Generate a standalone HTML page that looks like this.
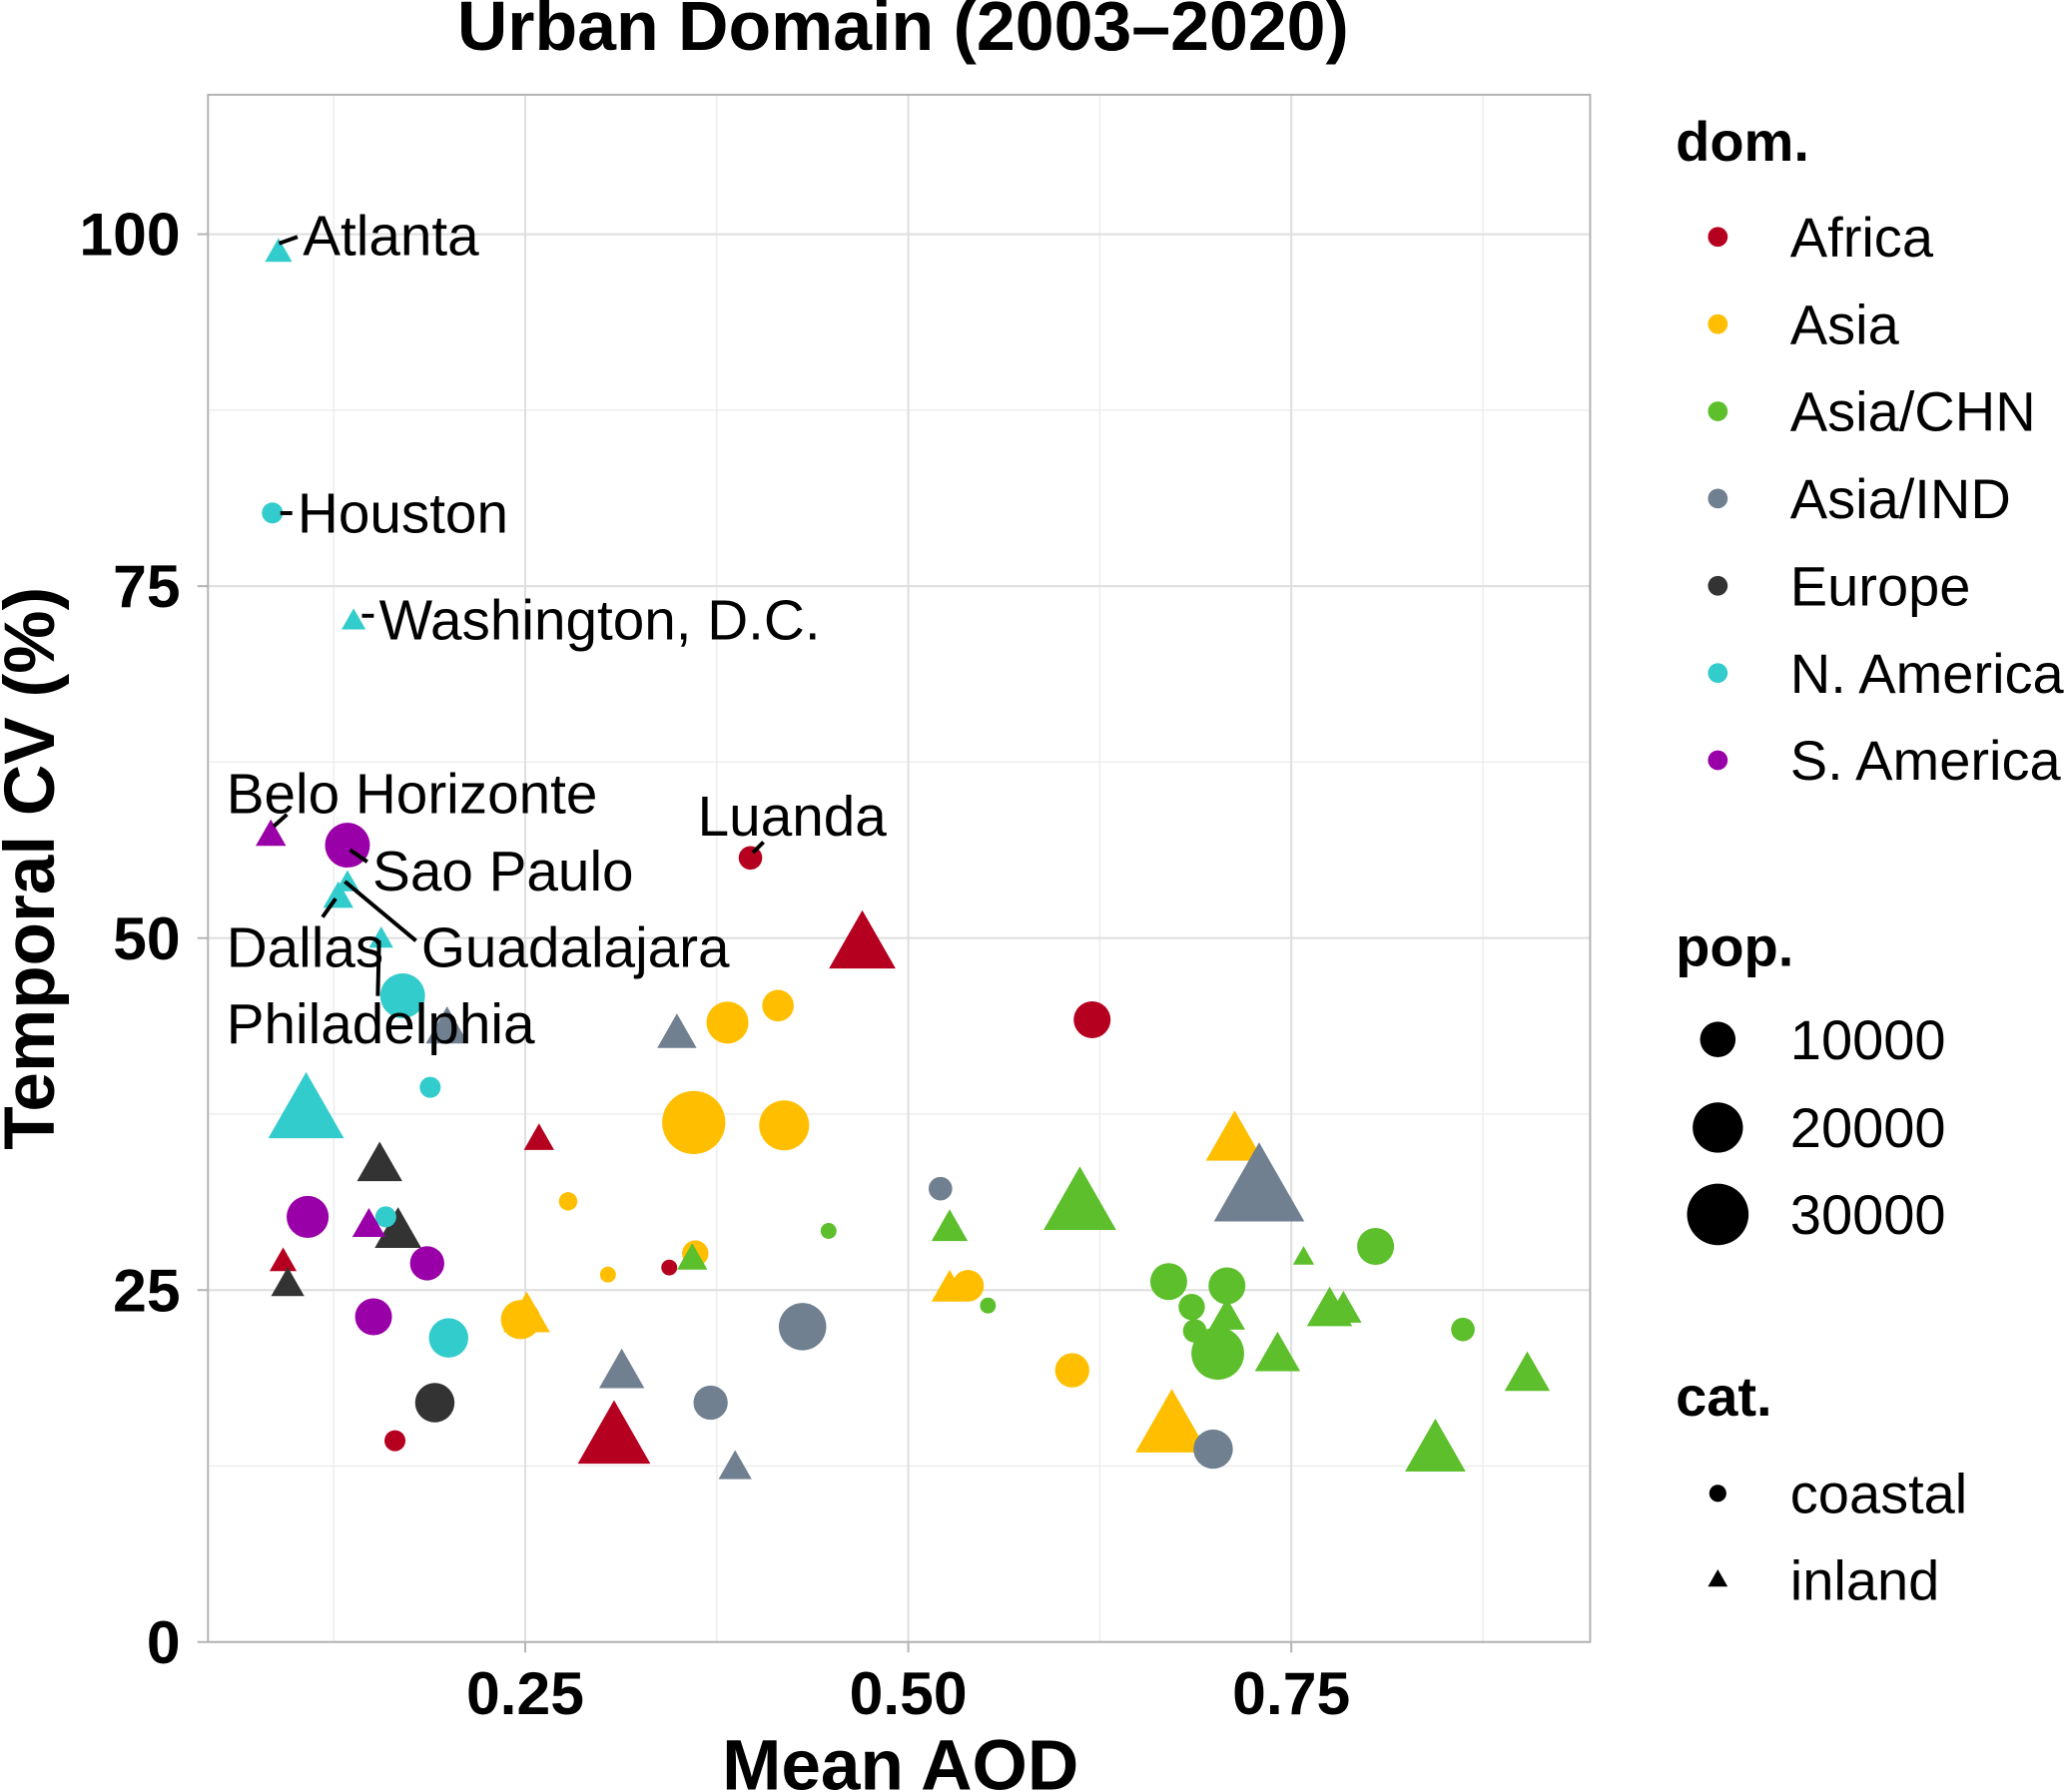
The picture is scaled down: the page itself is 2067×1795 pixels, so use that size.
<!DOCTYPE html>
<html><head><meta charset="utf-8">
<style>
html,body{margin:0;padding:0;background:#fff;}
svg{display:block;font-family:"Liberation Sans",Arial,sans-serif;}
</style></head>
<body>
<svg id="chart" width="2067" height="1795" viewBox="0 0 1568 1362" preserveAspectRatio="none" xmlns="http://www.w3.org/2000/svg">
<g id="grid"></g>
<g id="marks"></g>
<g id="ann"></g>
<rect x="158" y="72" width="1050" height="1176" fill="none" stroke="#b3b3b3" stroke-width="1.5"/>
<text x="686" y="38" font-size="53" font-weight="bold" text-anchor="middle">Urban Domain (2003–2020)</text>
<text x="684" y="1360" font-size="54" font-weight="bold" text-anchor="middle">Mean AOD</text>
<text transform="translate(41,660) rotate(-90)" font-size="54" font-weight="bold" text-anchor="middle">Temporal CV (%)</text>
<g id="ticks"></g>
<g id="legend"></g>
</svg>
<script>
const categories = ["Africa","Asia","Asia/CHN","Asia/IND","Europe","N. America","S. America"];
const colors = ["#b5001f","#ffbf00","#5cbf2b","#708090","#333333","#33cccc","#9900a8"];
const xTicks = [0.25,0.5,0.75];
const xTickLabels = ["0.25","0.50","0.75"];
const yTicks = [0,25,50,75,100];
const yTickLabels = ["0","25","50","75","100"];
// data
const region = [0,0,0,0,0,0,0,0, 1,1,1,1,1,1,1,1,1,1,1,1,1,1, 2,2,2,2,2,2,2,2,2,2,2,2,2,2,2,2,2,2,2, 3,3,3,3,3,3,3,3,3, 4,4,4,4, 5,5,5,5,5,5,5,5,5,5,5, 6,6,6,6,6,6];
const aod = [0.397,0.470,0.620,0.259,0.092,0.344,0.308,0.165,
 0.382,0.415,0.360,0.419,0.713,0.278,0.361,0.304,0.251,0.247,0.539,0.527,0.607,0.672,
 0.612,0.527,0.448,0.359,0.670,0.685,0.708,0.758,0.805,0.552,0.687,0.708,0.702,0.741,0.775,0.784,0.862,0.904,0.844,
 0.199,0.349,0.521,0.729,0.431,0.313,0.371,0.387,0.699,
 0.155,0.167,0.095,0.191,
 0.089,0.085,0.138,0.128,0.134,0.156,0.170,0.188,0.107,0.159,0.200,
 0.084,0.134,0.108,0.148,0.186,0.151];
const cv = [55.7,49.7,44.2,35.8,27.1,26.6,14.7,14.3,
 44.0,45.2,36.9,36.7,35.8,31.3,27.6,26.1,23.3,22.9,25.3,25.2,19.3,15.5,
 31.3,29.5,29.2,27.3,25.6,23.8,25.3,27.4,28.1,23.9,22.1,23.2,20.5,20.5,23.7,23.7,22.2,19.1,13.8,
 43.7,43.3,32.2,32.4,22.4,19.3,17.0,12.5,13.7,
 34.0,29.3,25.5,17.0,
 98.8,80.2,72.6,53.0,54.0,50.0,45.9,39.4,37.9,30.2,21.6,
 57.4,56.6,30.2,29.7,26.9,23.1];
const pop = [4400,26600,10800,5500,4400,2000,31600,3500,
 14000,7900,31600,19800,19800,2700,5500,2000,13000,12300,7900,7900,9300,31600,
 31600,7900,2000,5500,10800,5500,10800,2700,10800,2000,4400,7900,22000,12300,12300,7900,4400,12300,22000,
 10800,9300,4400,49000,17800,12300,9300,6600,12300,
 12300,13000,6600,12300,
 4400,3500,3500,5500,3500,3500,15900,3500,34300,3500,12300,
 5500,15900,14000,6600,9300,10800];
const cat = [0,1,0,1,1,0,1,0, 0,0,0,0,1,0,0,0,1,0,0,1,0,1, 1,1,0,1,0,0,0,1,0,0,0,1,0,1,1,1,0,1,1, 1,1,0,1,0,1,0,1,0, 1,1,1,0, 1,0,1,1,1,1,0,0,1,0,0, 1,0,0,1,0,0];
const NS='http://www.w3.org/2000/svg';
const X0=108, XS=1164, Y0=1248, YS=10.7;
function xs(v){return X0+v*XS;}
function ys(v){return Y0-v*YS;}
function rad(p){return 0.135*Math.sqrt(p);}
function mk(tag,attrs,parent){const e=document.createElementNS(NS,tag);for(const k in attrs)e.setAttribute(k,attrs[k]);parent.appendChild(e);return e;}
const grid=document.getElementById('grid');
[0.125,0.375,0.625,0.875].forEach(v=>{const l=mk('line',{x1:xs(v),x2:xs(v),y1:72,y2:1248,stroke:'#ebebeb','stroke-width':1},grid);

});
[12.5,37.5,62.5,87.5].forEach(v=>{const l=mk('line',{x1:158,x2:1208,y1:ys(v),y2:ys(v),stroke:'#ebebeb','stroke-width':1},grid);

});
const ticks=document.getElementById('ticks');
xTicks.forEach((v,i)=>{const l=mk('line',{x1:xs(v),x2:xs(v),y1:72,y2:1248,stroke:'#dedede','stroke-width':1.5},grid);


const t=mk('line',{x1:xs(v),x2:xs(v),y1:1248,y2:1256,stroke:'#b3b3b3','stroke-width':1.5},ticks);


const tx=mk('text',{x:xs(v),y:1303,'font-size':46,'font-weight':'bold','text-anchor':'middle'},ticks);tx.textContent=xTickLabels[i];

});
yTicks.forEach((v,i)=>{const l=mk('line',{x1:158,x2:1208,y1:ys(v),y2:ys(v),stroke:'#dedede','stroke-width':1.5},grid);


const t=mk('line',{x1:150,x2:158,y1:ys(v),y2:ys(v),stroke:'#b3b3b3','stroke-width':1.5},ticks);


const tx=mk('text',{x:137,y:ys(v)+16,'font-size':46,'font-weight':'bold','text-anchor':'end'},ticks);tx.textContent=yTickLabels[i];

});
function tri(cx,cy,r){const h=r*1.75,w=r*1.0;return `${cx-w*1.0},${cy+h*0.45} ${cx+w*1.0},${cy+h*0.45} ${cx},${cy-h*0.55}`;}
const marks=document.getElementById('marks');
for(let i=0;i<aod.length;i++){
  const cx=xs(aod[i]),cy=ys(cv[i]),r=rad(pop[i]),col=colors[region[i]];
  let e;
  if(cat[i]===0){e=mk('circle',{cx:cx,cy:cy,r:r,fill:col},marks);}
  else{const rr=r*1.15;e=mk('polygon',{points:tri(cx,cy,rr),fill:col},marks);}
  
  
}
// city labels (annotation positions in pixels)
const ann=document.getElementById('ann');
const labels=[["Atlanta",230,194,212,185,226,180],["Houston",226,405,213,390,222,390],["Washington, D.C.",288,486,275,468,284,468],
["Belo Horizonte",172,618,208,628,218,619],["Luanda",530,635,572,648,580,640],["Sao Paulo",283,677,266,646,279,655],
["Guadalajara",320,735,262,670,316,715],["Dallas",172,735,255,683,245,697],["Philadelphia",172,793,288,715,287,757]];
labels.forEach(L=>{const s=mk('line',{x1:L[3],y1:L[4],x2:L[5],y2:L[6],stroke:'#000','stroke-width':3},ann);


const t=mk('text',{x:L[1],y:L[2],'font-size':43},ann);t.textContent=L[0];

});
// legend
const lg=document.getElementById('legend');
function txt(s,x,y,fs,bold,name){const t=mk('text',{x:x,y:y,'font-size':fs,'font-weight':bold?'bold':'normal'},lg);t.textContent=s;return t;}
txt('dom.',1273,122,42.5,true,'legend-title-dom');
categories.forEach((c,i)=>{const y=180+i*66.3;const d=mk('circle',{cx:1305,cy:y,r:7.5,fill:colors[i]},lg);


txt(c,1360,y+15,42.5,false,'legend-entry');});
txt('pop.',1273,734,42.5,true,'legend-title-pop');
[[10000,790],[20000,857],[30000,923]].forEach(p=>{const d=mk('circle',{cx:1305,cy:p[1],r:rad(p[0]),fill:'#000'},lg);


txt(String(p[0]),1360,p[1]+15,42.5,false,'legend-entry');});
txt('cat.',1273,1076,42.5,true,'legend-title-cat');
const c1=mk('circle',{cx:1305,cy:1135,r:6.5,fill:'#000'},lg);


txt('coastal',1360,1150,42.5,false,'legend-entry');
const t1=mk('polygon',{points:tri(1305,1200,7.5),fill:'#000'},lg);


txt('inland',1360,1216,42.5,false,'legend-entry');
</script>
</body></html>
